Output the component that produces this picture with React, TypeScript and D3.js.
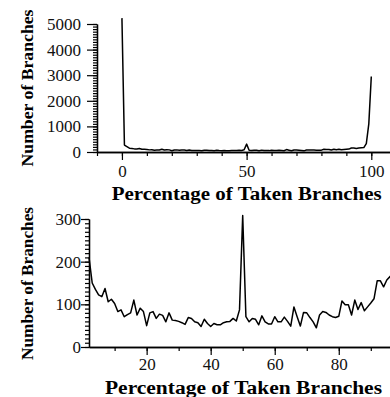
import React, { useEffect, useRef } from 'react'
import * as d3 from 'd3'

// branch counts for 0% and 1% taken
const headCounts = [5230, 270]
// branch counts for 2% .. 97% taken (shared by both panels)
const midCounts = [
  210, 150, 135, 122, 118, 137, 106, 112, 102, 83,
  87, 71, 76, 80, 110, 75, 91, 83, 50, 80,
  83, 67, 77, 74, 59, 80, 63, 62, 60, 57,
  53, 69, 67, 59, 57, 48, 65, 55, 48, 55,
  52, 52, 57, 59, 60, 67, 61, 87, 308, 71,
  59, 67, 65, 52, 73, 59, 54, 54, 71, 59,
  59, 70, 60, 49, 94, 71, 49, 81, 80, 69,
  59, 45, 75, 83, 81, 75, 71, 69, 72, 108,
  99, 99, 75, 110, 88, 104, 85, 94, 103, 113,
  155, 155, 141, 157, 165, 172
]
// branch counts for 98% .. 100% taken (full panel)
const tailCounts = [330, 1100, 2950]

const topYMajor = [0, 1000, 2000, 3000, 4000, 5000]
const topXMajor = [0, 50, 100]
const bottomYMajor = [0, 100, 200, 300]
const bottomXMajor = [20, 40, 60, 80]

const xTitle = 'Percentage of Taken Branches'
const yTitle = 'Number of Branches'

const fullData = headCounts.concat(midCounts, tailCounts).map((v, i) => ({ x: i, y: v }))
const zoomData = midCounts.map((v, i) => ({ x: i + 2, y: v }))

const FONT = "'Liberation Serif', 'Times New Roman', Times, 'DejaVu Serif', serif"

function drawPanel(svg: any, opts: any) {
  const { x, y, data, xMajor, xMinor, yMajor, yMinor, xLabelPad, yLabelPad, yMajorSize, titleY, titleX, titleLen, yTitleY, yTitleLen } = opts
  const g = svg.append('g')

  const styleAxis = (sel: any) => {
    sel.attr('font-family', null).attr('font-size', null)
    sel.select('.domain').attr('stroke', '#000').attr('stroke-width', 1.3)
    sel.selectAll('.tick line').attr('stroke', '#000').attr('stroke-width', 1.2)
    sel.selectAll('.tick text')
      .style('font-family', FONT)
      .style('font-size', '17px')
      .attr('fill', '#111')
  }

  const y0 = y.range()[0]
  const x0 = x.range()[0]

  // minor ticks
  g.append('g').attr('transform', `translate(0,${y0})`)
    .call(d3.axisBottom(x).tickValues(xMinor).tickSize(4).tickSizeOuter(0).tickFormat(() => ''))
    .call(styleAxis)
  g.append('g').attr('transform', `translate(${x0},0)`)
    .call(d3.axisLeft(y).tickValues(yMinor).tickSize(4).tickSizeOuter(0).tickFormat(() => ''))
    .call(styleAxis)

  // major ticks
  g.append('g').attr('transform', `translate(0,${y0})`)
    .call(d3.axisBottom(x).tickValues(xMajor).tickSize(8).tickSizeOuter(0).tickPadding(xLabelPad).tickFormat(d3.format('d')))
    .call(styleAxis)
  g.append('g').attr('transform', `translate(${x0},0)`)
    .call(d3.axisLeft(y).tickValues(yMajor).tickSize(yMajorSize).tickSizeOuter(0).tickPadding(yLabelPad).tickFormat(d3.format('d')))
    .call(styleAxis)

  const line = d3.line<any>().x(d => x(d.x)).y(d => y(d.y))
  g.append('path')
    .datum(data)
    .attr('fill', 'none')
    .attr('stroke', '#000')
    .attr('stroke-width', 1.5)
    .attr('stroke-linejoin', 'round')
    .attr('d', line)

  g.append('text')
    .attr('x', titleX)
    .attr('y', titleY)
    .attr('text-anchor', 'middle')
    .style('font-family', FONT)
    .style('font-weight', 'bold')
    .style('font-size', '18px')
    .attr('textLength', titleLen)
    .attr('lengthAdjust', 'spacingAndGlyphs')
    .text(xTitle)

  g.append('text')
    .attr('transform', `translate(33,${yTitleY}) rotate(-90)`)
    .attr('text-anchor', 'middle')
    .style('font-family', FONT)
    .style('font-weight', 'bold')
    .style('font-size', '16px')
    .attr('textLength', yTitleLen)
    .attr('lengthAdjust', 'spacingAndGlyphs')
    .text(yTitle)
}

export default function App() {
  const ref = useRef<SVGSVGElement>(null)

  useEffect(() => {
    const svg = d3.select(ref.current)
    svg.selectAll('*').remove()

    // top panel: full range
    const xTop = d3.scaleLinear().domain([-10, 107.5]).range([97, 390])
    const yTop = d3.scaleLinear().domain([0, 5000]).range([152, 24])
    drawPanel(svg, {
      x: xTop, y: yTop, data: fullData,
      xMajor: topXMajor, xMinor: d3.range(-10, 101, 10),
      yMajor: topYMajor, yMinor: d3.range(0, 5001, 100),
      xLabelPad: 5, yLabelPad: 6, yMajorSize: 10,
      titleX: 246.7, titleY: 200, titleLen: 270, yTitleY: 88, yTitleLen: 157
    })

    // bottom panel: zoom on 2..96
    const xBot = d3.scaleLinear().domain([2, 96]).range([89, 390])
    const yBot = d3.scaleLinear().domain([0, 300]).range([347, 219])
    drawPanel(svg, {
      x: xBot, y: yBot, data: zoomData,
      xMajor: bottomXMajor, xMinor: d3.range(10, 100, 10),
      yMajor: bottomYMajor, yMinor: d3.range(0, 301, 10),
      xLabelPad: 3, yLabelPad: 0, yMajorSize: 8,
      titleX: 243.5, titleY: 394, titleLen: 277, yTitleY: 283.5, yTitleLen: 153
    })
  }, [])

  return (
    <div style={{ position: 'absolute', left: 0, top: 0, background: '#fff', fontFamily: FONT }}>
      <svg ref={ref} width={390} height={397} style={{ display: 'block', fontFamily: FONT }} />
    </div>
  )
}
